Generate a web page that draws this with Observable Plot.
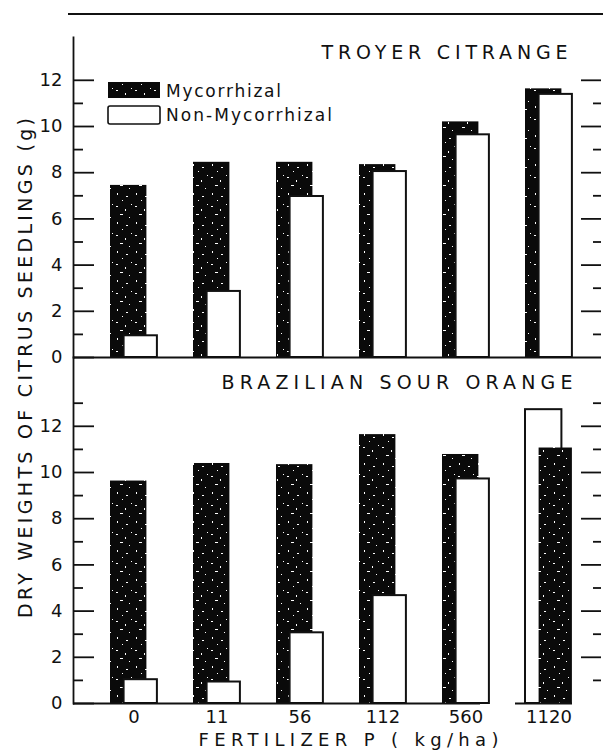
<!DOCTYPE html>
<html><head><meta charset="utf-8">
<script src="https://cdn.jsdelivr.net/npm/d3@7"></script>
<script src="https://cdn.jsdelivr.net/npm/@observablehq/plot@0.6"></script>
<style>
body{margin:0;background:#fff;}
#fig{position:relative;width:603px;height:755px;overflow:hidden;background:#fff;font-family:"DejaVu Sans",sans-serif;}
#fig > svg{position:absolute;left:0;}
</style></head><body>
<svg width="0" height="0" style="position:absolute">
  <defs>
    <pattern id="speck" patternUnits="userSpaceOnUse" width="19" height="29">
      <rect width="19" height="29" fill="#0a0a0a"/>
      <rect x="2" y="3" width="2" height="1" fill="#fff"/>
      <rect x="11" y="6" width="1" height="2" fill="#fff"/>
      <rect x="6" y="11" width="3" height="1" fill="#fff"/>
      <rect x="15" y="14" width="1" height="1" fill="#fff"/>
      <rect x="3" y="19" width="1" height="2" fill="#fff"/>
      <rect x="12" y="22" width="2" height="1" fill="#fff"/>
      <rect x="8" y="26" width="1" height="1" fill="#fff"/>
      <rect x="17" y="1" width="1" height="1" fill="#fff"/>
    </pattern>
  </defs>
</svg>
<div id="fig"></div>
<script>
// ---- data ----
const doses = ["0", "11", "56", "112", "560", "1120"];
const seriesNames = ["Mycorrhizal", "Non-Mycorrhizal"];
const panelTitles = ["TROYER CITRANGE", "BRAZILIAN SOUR ORANGE"];
const troyerMyc = [7.45, 8.45, 8.45, 8.35, 10.2, 11.63];
const troyerNon = [0.94, 2.86, 6.97, 8.05, 9.64, 11.39];
const brazilMyc = [9.63, 10.39, 10.34, 11.64, 10.78, 11.06];
const brazilNon = [1.03, 0.93, 3.06, 4.67, 9.72, 12.72];
const majorTicks = [0, 2, 4, 6, 8, 10, 12];
const minorTicksTop = [1, 3, 5, 7, 9, 11];
const minorTicksBottom = [1, 3, 5, 7, 9, 11, 13];
const xTitle = "FERTILIZER P ( kg/ha)";
const yTitle = "DRY WEIGHTS OF CITRUS SEEDLINGS (g)";

// ---- layout ----
const W = 603, ML = 73, MR = 2;
const frameW = W - ML - MR;
const ink = "#111";
const xRange = [90, 591.6];
const backInset = {insetLeft: 18, insetRight: 28.6};
const frontInset = {insetLeft: 31.6, insetRight: 18.1};

function split(myc, non) {
  const back = [], front = [];
  doses.forEach((d, i) => {
    const m = {dose: d, series: seriesNames[0], value: myc[i]};
    const n = {dose: d, series: seriesNames[1], value: non[i]};
    if (m.value >= n.value) { back.push(m); front.push(n); } else { back.push(n); front.push(m); }
  });
  return {back, front};
}

function panel({myc, non, title, ymax, height, marginTop, marginBottom, minor, bottom, titleDx, titleDy, titleLen}) {
  const {back, front} = split(myc, non);
  const isM = d => d.series === seriesNames[0];
  const bars = (rows, inset) => [
    Plot.barY(rows.filter(isM), {x: "dose", y: "value", fill: "url(#speck)", ...inset}),
    Plot.barY(rows.filter(d => !isM(d)), {x: "dose", y: "value", fill: "white", stroke: ink, strokeWidth: 2, ...inset})
  ];
  const marks = [
    ...bars(back, backInset),
    ...bars(front, frontInset),
    Plot.frame({anchor: "left", stroke: ink, strokeWidth: 1.8}),
    Plot.ruleY(majorTicks, {stroke: ink, strokeWidth: 1.8, insetRight: frameW - 21}),
    Plot.ruleY(minor, {stroke: ink, strokeWidth: 1.8, insetRight: frameW - 10}),
    Plot.ruleY(majorTicks.filter(v => v > 0), {stroke: ink, strokeWidth: 1.8, insetLeft: frameW - 20}),
    Plot.ruleY(minor, {stroke: ink, strokeWidth: 1.8, insetLeft: frameW - 8}),
    Plot.axisY(majorTicks, {tickSize: 0, tickPadding: 11, fontSize: 18, fill: ink, label: null}),
    Plot.text([title], {frameAnchor: "top-right", textAnchor: "end", lineAnchor: "middle", dx: titleDx, dy: titleDy, fontSize: 19, fill: ink})
  ];
  if (bottom) {
    marks.push(
      Plot.ruleY([0], {stroke: ink, strokeWidth: 2, insetRight: 601 - 480}),
      Plot.ruleY([0], {stroke: ink, strokeWidth: 2, insetLeft: 515 - ML, insetRight: 601 - 572}),
      Plot.axisX({tickSize: 0, tickPadding: 7, fontSize: 18, fill: ink, label: null}),
      Plot.text([xTitle], {frameAnchor: "bottom", lineAnchor: "middle", dx: 11, dy: 37, fontSize: 18, fill: ink})
    );
  } else {
    marks.push(Plot.ruleY([0], {stroke: ink, strokeWidth: 2}));
  }
  const svg = Plot.plot({
    width: W, height, marginLeft: ML, marginRight: MR, marginTop, marginBottom,
    x: {domain: doses, range: xRange, padding: 0, axis: null},
    y: {domain: [0, ymax], axis: null},
    style: {fontFamily: "'DejaVu Sans', sans-serif", color: ink, background: "transparent", overflow: "visible"},
    marks
  });
  d3.select(svg).selectAll("text").each(function() {
    if (this.textContent === title) d3.select(this).attr("textLength", titleLen).attr("lengthAdjust", "spacing");
    if (this.textContent === xTitle) d3.select(this).attr("textLength", 300).attr("lengthAdjust", "spacing");
  });
  return svg;
}

const fig = document.getElementById("fig");
const topPanel = panel({myc: troyerMyc, non: troyerNon, title: panelTitles[0], ymax: 320 / 23.1, height: 360,
  marginTop: 37, marginBottom: 3, minor: minorTicksTop, bottom: false, titleDx: -34, titleDy: 15, titleLen: 246});
topPanel.style.top = "0px";
fig.appendChild(topPanel);
const botPanel = panel({myc: brazilMyc, non: brazilNon, title: panelTitles[1], ymax: 346 / 23.1, height: 398,
  marginTop: 0, marginBottom: 52, minor: minorTicksBottom, bottom: true, titleDx: -29, titleDy: 25, titleLen: 351});
botPanel.style.top = "357px";
fig.appendChild(botPanel);

// overlay: top rule, y title, legend
const ov = d3.select(fig).append("svg").attr("width", W).attr("height", 755).style("top", "0px")
  .style("font-family", "'DejaVu Sans', sans-serif");
ov.append("line").attr("x1", 68).attr("x2", 603).attr("y1", 14).attr("y2", 14).attr("stroke", ink).attr("stroke-width", 2);
ov.append("text").attr("transform", "translate(25,368) rotate(-90)").attr("text-anchor", "middle")
  .attr("dominant-baseline", "central").attr("font-size", 19).attr("fill", ink)
  .attr("textLength", 500).attr("lengthAdjust", "spacing").text(yTitle);
const leg = ov.append("g");
leg.append("rect").attr("x", 108).attr("y", 82).attr("width", 52).attr("height", 16).attr("fill", "url(#speck)");
leg.append("rect").attr("x", 108).attr("y", 106).attr("width", 52).attr("height", 18).attr("rx", 2)
  .attr("fill", "white").attr("stroke", ink).attr("stroke-width", 1.6);
leg.append("text").attr("x", 166).attr("y", 91).attr("dominant-baseline", "central").attr("font-size", 17).attr("fill", ink)
  .attr("textLength", 115).attr("lengthAdjust", "spacing").text(seriesNames[0]);
leg.append("text").attr("x", 166).attr("y", 115).attr("dominant-baseline", "central").attr("font-size", 17).attr("fill", ink)
  .attr("textLength", 166).attr("lengthAdjust", "spacing").text(seriesNames[1]);
</script>
</body></html>
